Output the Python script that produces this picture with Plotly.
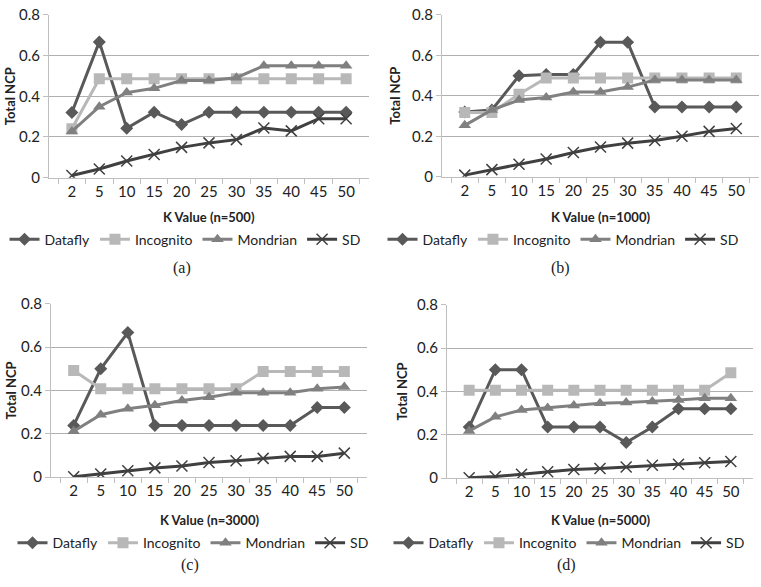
import plotly.graph_objects as go

k_values = ["2", "5", "10", "15", "20", "25", "30", "35", "40", "45", "50"]
series_names = ["Datafly", "Incognito", "Mondrian", "SD"]

# Panel (a) n=500
a_datafly = [0.32, 0.667, 0.243, 0.322, 0.261, 0.322, 0.322, 0.322, 0.322, 0.322, 0.322]
a_incognito = [0.24, 0.486, 0.486, 0.486, 0.486, 0.486, 0.486, 0.486, 0.486, 0.486, 0.486]
a_mondrian = [0.227, 0.349, 0.418, 0.439, 0.477, 0.477, 0.491, 0.55, 0.55, 0.55, 0.55]
a_sd = [0.011, 0.043, 0.082, 0.114, 0.149, 0.171, 0.187, 0.244, 0.23, 0.29, 0.29]

# Panel (b) n=1000
b_datafly = [0.32, 0.33, 0.499, 0.505, 0.505, 0.664, 0.664, 0.344, 0.344, 0.344, 0.344]
b_incognito = [0.318, 0.318, 0.408, 0.488, 0.488, 0.488, 0.488, 0.488, 0.488, 0.488, 0.488]
b_mondrian = [0.254, 0.33, 0.379, 0.392, 0.419, 0.419, 0.443, 0.478, 0.478, 0.478, 0.478]
b_sd = [0.008, 0.035, 0.062, 0.088, 0.12, 0.147, 0.166, 0.179, 0.2, 0.224, 0.238]

# Panel (c) n=3000
c_datafly = [0.239, 0.5, 0.667, 0.239, 0.239, 0.239, 0.239, 0.239, 0.239, 0.321, 0.321]
c_incognito = [0.492, 0.408, 0.408, 0.408, 0.408, 0.408, 0.408, 0.488, 0.488, 0.488, 0.488]
c_mondrian = [0.212, 0.288, 0.316, 0.332, 0.354, 0.369, 0.389, 0.389, 0.389, 0.408, 0.416]
c_sd = [0.002, 0.015, 0.03, 0.043, 0.052, 0.068, 0.076, 0.087, 0.096, 0.096, 0.111]

# Panel (d) n=5000
d_datafly = [0.236, 0.5, 0.5, 0.236, 0.236, 0.236, 0.164, 0.236, 0.32, 0.32, 0.32]
d_incognito = [0.406, 0.406, 0.406, 0.406, 0.406, 0.406, 0.406, 0.406, 0.406, 0.406, 0.486]
d_mondrian = [0.218, 0.283, 0.314, 0.324, 0.335, 0.346, 0.349, 0.354, 0.361, 0.369, 0.369]
d_sd = [0.002, 0.008, 0.018, 0.03, 0.04, 0.045, 0.052, 0.06, 0.064, 0.071, 0.077]

panels = [
    ("K Value (n=500)", "(a)", [a_datafly, a_incognito, a_mondrian, a_sd]),
    ("K Value (n=1000)", "(b)", [b_datafly, b_incognito, b_mondrian, b_sd]),
    ("K Value (n=3000)", "(c)", [c_datafly, c_incognito, c_mondrian, c_sd]),
    ("K Value (n=5000)", "(d)", [d_datafly, d_incognito, d_mondrian, d_sd]),
]

W, H = 761, 587
# plot areas in pixels: (left, right, top, bottom)
boxes = [(49, 369, 5, 173), (442, 759, 5, 172), (51, 367, 303, 482), (447, 753, 304, 483)]
xtitle_y = [214, 214, 526, 526]
legend_y = [237, 237, 550, 550]
caption_y = [266, 266, 573, 573]
caption_x = [182, 560, 190, 566]
ytitle_x = [10, 395, 11, 402]

colors = ["#595959", "#b8b8b8", "#808080", "#404040"]
symbols = ["diamond", "square", "triangle-up", "x-thin"]
msizes = [10, 11, 11, 11]

font_family = "Lato, Open Sans, sans-serif"
fig = go.Figure()
annotations = []
layout = {}

for i, (xt, cap, data) in enumerate(panels):
    n = "" if i == 0 else str(i + 1)
    l, r, t, b = boxes[i]
    legname = "legend" + n
    for j, name in enumerate(series_names):
        if symbols[j] == "x-thin":
            marker = dict(symbol="x-thin", size=msizes[j], color=colors[j],
                          line=dict(width=1.5, color=colors[j]))
        else:
            marker = dict(symbol=symbols[j], size=msizes[j], color=colors[j])
        fig.add_trace(go.Scatter(
            x=k_values, y=data[j], name=name, mode="lines+markers",
            line=dict(color=colors[j], width=3), marker=marker,
            xaxis="x" + n, yaxis="y" + n, legend=legname, showlegend=True,
        ))
    layout["xaxis" + n] = dict(
        domain=[l / W, r / W], anchor="y" + n, type="category",
        showline=True, linecolor="#bfbfbf", linewidth=1,
        ticks="outside", ticklen=5, tickcolor="#bfbfbf", tickson="boundaries",
        showgrid=False, tickangle=0,
        tickfont=dict(size=15, color="#222", family=font_family),
        fixedrange=True,
    )
    layout["yaxis" + n] = dict(
        domain=[1 - b / H, 1 - t / H], anchor="x" + n, range=[0, 0.8],
        dtick=0.2, tick0=0, showgrid=True, gridcolor="#b0b0b0", gridwidth=1,
        showline=True, linecolor="#bfbfbf", linewidth=1,
        ticks="outside", ticklen=5, tickcolor="#bfbfbf", zeroline=False,
        tickfont=dict(size=15, color="#222", family=font_family),
        fixedrange=True,
    )
    layout[legname] = dict(
        orientation="h", x=(caption_x[i] + 3) / W, y=1 - legend_y[i] / H,
        xanchor="center", yanchor="middle", bgcolor="rgba(0,0,0,0)",
        font=dict(size=14, color="#222", family=font_family),
        itemwidth=30, tracegroupgap=0,
    )
    annotations.append(dict(
        text="<b>" + xt + "</b>", x=(l + r) / 2 / W, y=1 - xtitle_y[i] / H,
        xref="paper", yref="paper", showarrow=False, xanchor="center", yanchor="middle",
        font=dict(size=13, color="#222", family=font_family),
    ))
    annotations.append(dict(
        text="<b>Total NCP</b>", x=ytitle_x[i] / W, y=1 - (t + b) / 2 / H,
        xref="paper", yref="paper", showarrow=False, xanchor="center", yanchor="middle",
        textangle=-90, font=dict(size=13, color="#222", family=font_family),
    ))
    annotations.append(dict(
        text=cap, x=caption_x[i] / W, y=1 - caption_y[i] / H,
        xref="paper", yref="paper", showarrow=False, xanchor="center", yanchor="middle",
        font=dict(size=16, color="#222", family="Liberation Serif, serif"),
    ))

fig.update_layout(
    width=W, height=H, margin=dict(l=0, r=0, t=0, b=0),
    paper_bgcolor="white", plot_bgcolor="white",
    annotations=annotations, **layout,
)
fig.write_html("out.html")
